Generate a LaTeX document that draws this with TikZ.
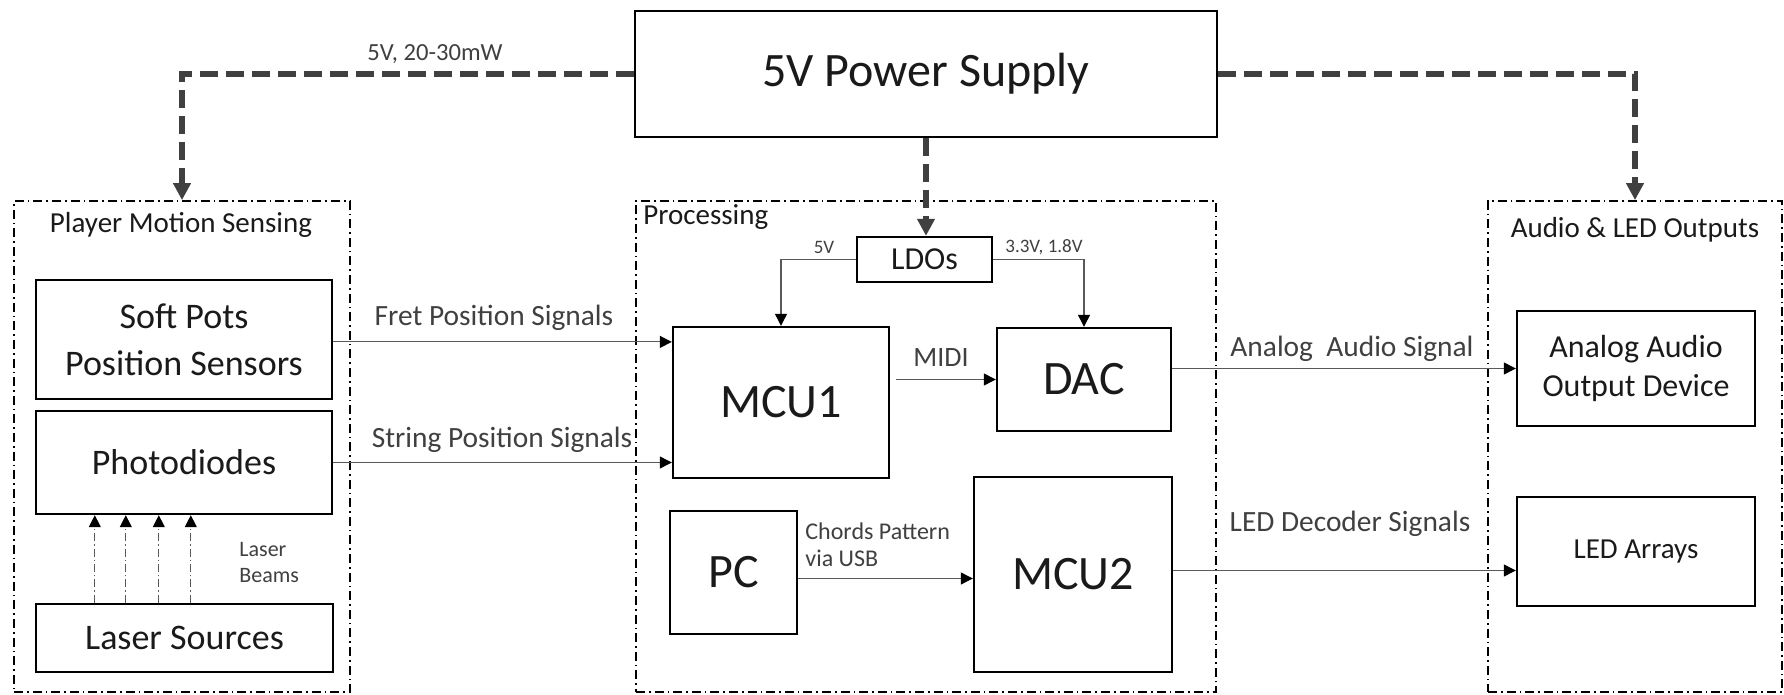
\documentclass[tikz,border=0pt]{standalone}
\usepackage{fontspec}
\setmainfont{Carlito}
\usetikzlibrary{arrows.meta}
\definecolor{txt}{HTML}{1A1A1A}
\definecolor{lbl}{HTML}{404040}
\definecolor{pw}{HTML}{404040}
\definecolor{cn}{HTML}{595959}
\begin{document}
\begin{tikzpicture}[x=0.5pt,y=-0.5pt,
  blk/.style={draw=black, line width=1.2pt, text=txt, inner sep=0pt, align=center},
  grp/.style={draw=black, line width=0.9pt, dash pattern=on 4.5pt off 2pt on 0.8pt off 2pt, inner sep=0pt},
  glabel/.style={text=txt, font=\fontsize{14.5}{17}\selectfont, inner sep=0pt},
  lab/.style={text=lbl, inner sep=0pt, align=left},
  sig/.style={draw=cn, line width=0.6pt, -{Triangle[length=6pt,width=6pt,color=black]}},
  pwr/.style={draw=pw, line width=3pt, dash pattern=on 9pt off 4pt, line join=miter, -{Triangle[length=8.5pt,width=8.5pt]}},
  beam/.style={draw=cn, line width=0.5pt, dash pattern=on 4pt off 1.5pt on 0.7pt off 1.5pt, -{Triangle[length=6pt,width=6pt,color=black]}}
]
\useasboundingbox[fill=white] (0,0) rectangle (1784,695);

% groups
\node[grp, minimum width=168pt, minimum height=245.5pt] (gleft) at (182,446.5) {};
\node[grp, minimum width=290pt, minimum height=245.5pt] (gproc) at (926,446.5) {};
\node[grp, minimum width=147pt, minimum height=245.5pt] (gright) at (1635,446.5) {};
\node[glabel] (tleft) at (181,225) {Player Motion Sensing};
\node[glabel, anchor=west] (tproc) at (643,217) {Processing};
\node[glabel] (tright) at (1635,230) {Audio \& LED Outputs};

% blocks
\node[blk, minimum width=291pt, minimum height=63pt, font=\fontsize{24}{28}\selectfont] (ps) at (926,74) {5V Power Supply};
\node[blk, minimum width=67.5pt, minimum height=22.5pt, font=\fontsize{16}{19}\selectfont] (ldo) at (924.5,259.5) {LDOs};
\node[blk, minimum width=108pt, minimum height=75.5pt, font=\fontsize{24}{28}\selectfont] (mcu1) at (781,402.5) {MCU1};
\node[blk, minimum width=87pt, minimum height=51.5pt, font=\fontsize{24}{28}\selectfont] (dac) at (1084,379.5) {DAC};
\node[blk, minimum width=63.5pt, minimum height=61.5pt, font=\fontsize{24}{28}\selectfont] (pc) at (733.5,572.5) {PC};
\node[blk, minimum width=99pt, minimum height=97.5pt, font=\fontsize{24}{28}\selectfont] (mcu2) at (1073,574.5) {MCU2};
\node[blk, minimum width=148pt, minimum height=59.5pt, font=\fontsize{18}{23.5}\selectfont] (soft) at (184,339.5) {Soft Pots\\Position Sensors};
\node[blk, minimum width=148pt, minimum height=51.5pt, font=\fontsize{18}{22}\selectfont] (photo) at (184,462.5) {Photodiodes};
\node[blk, minimum width=148.5pt, minimum height=34pt, font=\fontsize{18}{22}\selectfont] (laser) at (184.5,638) {Laser Sources};
\node[blk, minimum width=119pt, minimum height=57.5pt, font=\fontsize{16}{19.5}\selectfont] (analog) at (1636,368.5) {Analog Audio\\Output Device};
\node[blk, minimum width=119pt, minimum height=54.5pt, font=\fontsize{14.5}{17}\selectfont] (led) at (1636,551.5) {LED Arrays};

% power connectors
\draw[pwr] (ps.west) -| (gleft.north);
\draw[pwr] (ps.east) -| (gright.north);
\draw[pwr] (ps.south) -- (ps.south |- ldo.north);
\node[lab, font=\fontsize{12.3}{14}\selectfont] (l5v) at (435,54) {5V, 20-30mW};

% LDO connectors
\draw[sig] (ldo.west) -| (mcu1.north);
\draw[sig] (ldo.east) -| (dac.north);
\node[lab, font=\fontsize{9.5}{11}\selectfont] (lldo1) at (824,247) {5V};
\node[lab, font=\fontsize{9.5}{11}\selectfont] (lldo2) at (1044,247) {3.3V, 1.8V};

% signal connectors
\draw[sig] ([yshift=-1.2pt]soft.east) -- ([yshift=-1.2pt]soft.east -| mcu1.west);
\node[lab, font=\fontsize{14.7}{17}\selectfont] (lfret) at (494,318) {Fret Position Signals};
\draw[sig] (photo.east) -- (photo.east -| mcu1.west);
\node[lab, font=\fontsize{14.7}{17}\selectfont] (lstring) at (502,440) {String Position Signals};
\draw[sig] ([xshift=3pt]mcu1.east |- dac.west) -- (dac.west);
\node[lab, font=\fontsize{14}{17}\selectfont] (lmidi) at (941,358) {MIDI};
\draw[sig] (dac.east |- analog.west) -- (analog.west);
\node[lab, font=\fontsize{14.7}{17}\selectfont] (laudio) at (1352,349) {Analog\ \ Audio Signal};
\draw[sig] ([yshift=-3pt]pc.east) -- ([yshift=-3pt]pc.east -| mcu2.west);
\node[lab, anchor=west, font=\fontsize{12}{13.5}\selectfont] (lchords) at (805,544.5) {Chords Pattern\\via USB};
\draw[sig] ([yshift=2pt]mcu2.east -| mcu2.east) ++(0,0) coordinate (m2o) -- (m2o -| led.west);
\node[lab, font=\fontsize{14.7}{17}\selectfont] (lled) at (1350,524) {LED Decoder Signals};

% laser beams
\foreach \dx in {30,45.5,62,78}
  \draw[beam] ([xshift=\dx pt]laser.north west) -- ([xshift=\dx pt]photo.south west);
\node[lab, anchor=west, font=\fontsize{11}{13}\selectfont] (lbeam) at (239,563) {Laser\\Beams};
\end{tikzpicture}
\end{document}
